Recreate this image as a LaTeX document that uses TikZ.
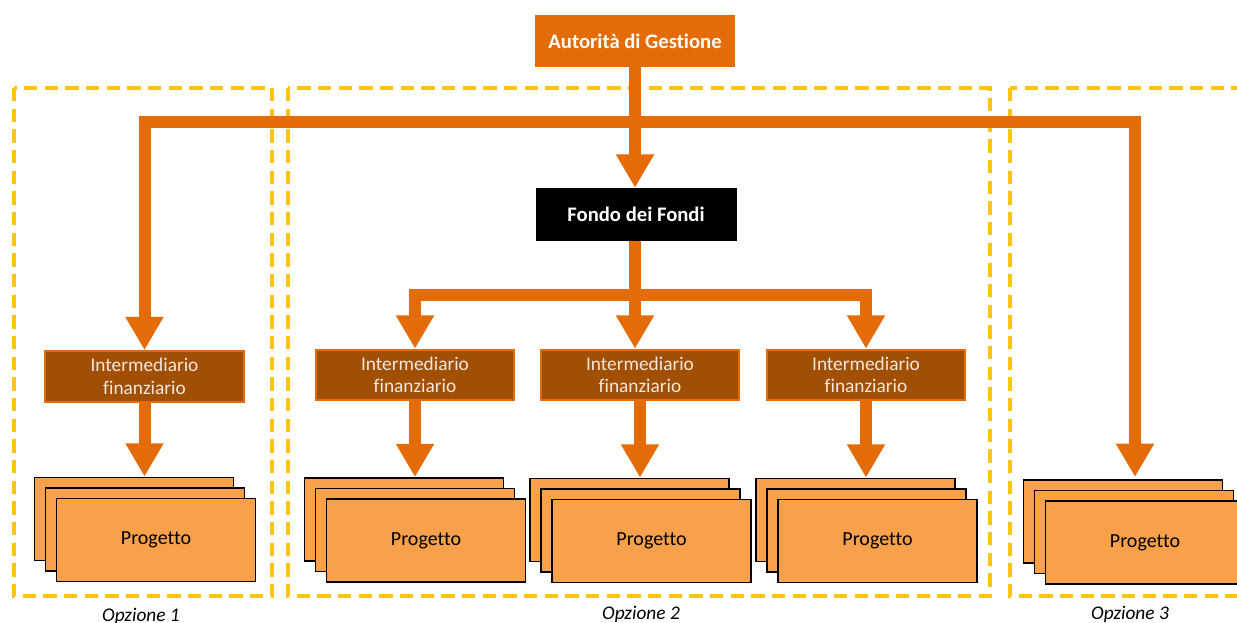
\documentclass[tikz,border=0pt]{standalone}
\usepackage{fontspec}
\setmainfont{Carlito}[Ligatures=NoCommon]
\usetikzlibrary{arrows.meta}
\definecolor{agorange}{HTML}{E36C09}
\definecolor{intbrown}{HTML}{A14F02}
\definecolor{projorange}{HTML}{F9A04B}
\definecolor{optyellow}{HTML}{FFC410}
\definecolor{inttext}{HTML}{F5E8DE}
\begin{document}
\begin{tikzpicture}[x=0.75pt,y=-0.75pt,
  every node/.style={font=\fontsize{14.5pt}{17pt}\selectfont, inner sep=0pt},
  pipe/.style={draw=agorange, line width=9pt, line join=miter},
  flow/.style={pipe, -{Triangle[width=27pt,length=25pt]}},
  topbox/.style={fill=agorange, text=white, font=\fontsize{15.5pt}{18pt}\selectfont\bfseries, minimum width=150pt, minimum height=39pt},
  fdfbox/.style={fill=black, text=white, font=\fontsize{15.5pt}{18pt}\selectfont\bfseries, minimum width=150.75pt, minimum height=39.75pt},
  intbox/.style={fill=intbrown, draw=agorange, line width=1.5pt, text=inttext, align=center, minimum width=149pt, minimum height=38pt},
  projbox/.style={fill=projorange, draw=black, line width=1.1pt, minimum width=149.5pt, minimum height=62.5pt, font=\fontsize{15pt}{18pt}\selectfont},
  optbox/.style={draw=optyellow, line width=2.5pt, dash pattern=on 10pt off 5.5pt},
  optlabel/.style={font=\fontsize{14.5pt}{17pt}\selectfont\itshape, anchor=base}]
\useasboundingbox (0,0) rectangle (1237,623);

% option frames
\draw[optbox] (14,88) rectangle (272,596);
\draw[optbox] (288,88) rectangle (990,596);
\draw[optbox] (1010,88) rectangle (1260,596);

% top nodes
\node[topbox] (ag) at (635,41) {Autorità di Gestione};
\node[fdfbox] (ff) at (636,214.5) {Fondo dei Fondi};

% intermediari
\node[intbox] (i1) at (144.5,376.5) {Intermediario\\finanziario};
\node[intbox] (i2) at (415,375) {Intermediario\\finanziario};
\node[intbox] (i3) at (640,375) {Intermediario\\finanziario};
\node[intbox] (i4) at (866,375) {Intermediario\\finanziario};

% project stacks
\foreach \n/\x/\y in {1/156/540, 2/426/540.5, 3/651.5/541, 4/877.5/541, 5/1145/542.5}{
  \node[projbox] (p\n a) at (\x-22,\y-21) {};
  \node[projbox] (p\n b) at (\x-11,\y-10.5) {};
  \node[projbox] (p\n c) at (\x,\y) {Progetto};
}

% connectors
\coordinate (b1) at (635,122);
\coordinate (t5) at (1135,477);
\draw[pipe] (ag.south) -- (b1);
\draw[flow] (b1) -| (i1.north);
\draw[flow] (b1) -- (b1 |- ff.north);
\draw[flow] (b1) -| (t5);

\coordinate (b2) at (635,295);
\draw[pipe] (b2 |- ff.south) -- (b2);
\draw[flow] (b2) -| (i2.north);
\draw[flow] (b2) -- (b2 |- i3.north);
\draw[flow] (b2) -| (i4.north);

\draw[flow] (i1.south) -- (i1.south |- p1a.north);
\draw[flow] (i2.south) -- (i2.south |- p2a.north);
\draw[flow] (i3.south) -- (i3.south |- p3a.north);
\draw[flow] (i4.south) -- (i4.south |- p4a.north);

% option labels
\node[optlabel] (o1) at (141,621) {Opzione 1};
\node[optlabel] (o2) at (641,619) {Opzione 2};
\node[optlabel] (o3) at (1130,619) {Opzione 3};
\end{tikzpicture}
\end{document}
